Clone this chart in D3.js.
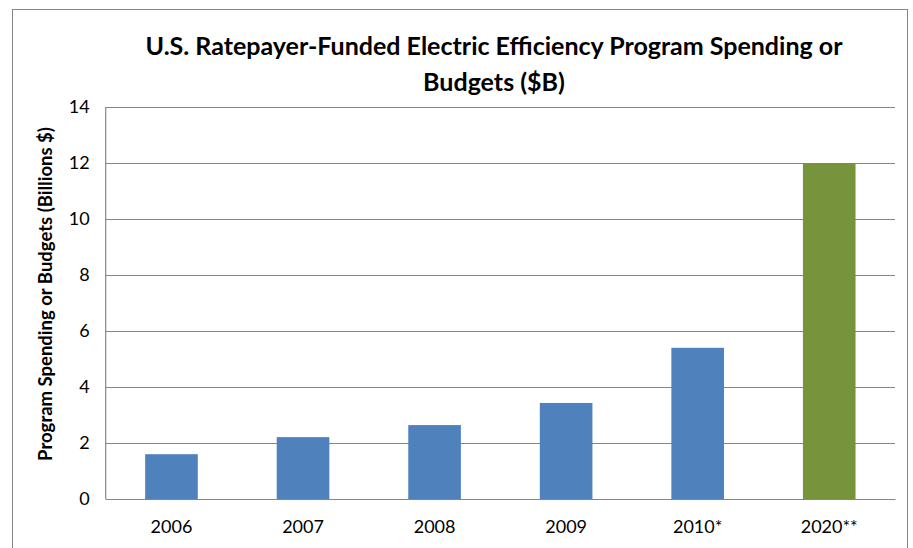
<!DOCTYPE html>
<html>
<head>
<meta charset="utf-8">
<script src="https://cdn.jsdelivr.net/npm/d3@7"></script>
<style>
  body { margin: 0; background: #fff; }
  text { font-family: Lato, "Open Sans", sans-serif; fill: #000; }
</style>
</head>
<body>
<div id="container"></div>
<script>
// chart data
var years = ["2006", "2007", "2008", "2009", "2010*", "2020**"];
var spending = [1.6, 2.21, 2.64, 3.43, 5.4, 12];
var barColors = ["#4F81BD", "#4F81BD", "#4F81BD", "#4F81BD", "#4F81BD", "#77933C"];
var yTicks = [0, 2, 4, 6, 8, 10, 12, 14];
var titleLines = ["U.S. Ratepayer-Funded Electric Efficiency Program Spending or", "Budgets ($B)"];
var yTitle = "Program Spending or Budgets (Billions $)";

var width = 913, height = 548;
var margin = {left: 105.7, top: 107, right: 18, bottom: 49};

var svg = d3.select("#container")
    .append("svg")
    .attr("width", width)
    .attr("height", height);

// outer frame
svg.append("rect")
    .attr("x", 12.5)
    .attr("y", 9.5)
    .attr("width", 895)
    .attr("height", 600)
    .attr("fill", "none")
    .attr("stroke", "#868686");

var x = d3.scaleBand()
    .domain(years)
    .range([margin.left, width - margin.right])
    .paddingInner(0.6)
    .paddingOuter(0.3);

var y = d3.scaleLinear()
    .domain([0, 14])
    .range([height - margin.bottom, margin.top]);

// gridlines + y labels
var yAxis = d3.axisLeft(y)
    .tickValues(yTicks)
    .tickSize(-(width - margin.right - margin.left))
    .tickPadding(16)
    .tickFormat(d3.format("d"));

var gy = svg.append("g")
    .attr("transform", "translate(" + margin.left + ",0)")
    .call(yAxis);
gy.select(".domain").remove();
gy.selectAll(".tick line")
    .attr("stroke", "#868686")
    .attr("stroke-width", 1.2);
gy.selectAll(".tick text")
    .style("font-size", "18px")
    .style("font-family", "Lato, 'Open Sans', sans-serif");

// left axis line
svg.append("line")
    .attr("x1", margin.left).attr("x2", margin.left)
    .attr("y1", y(14)).attr("y2", y(0))
    .attr("stroke", "#868686")
    .attr("stroke-width", 1.2);

// bars
svg.selectAll(".bar")
    .data(years)
    .enter()
    .append("rect")
    .attr("class", "bar")
    .attr("x", d => x(d))
    .attr("y", (d, i) => y(spending[i]))
    .attr("width", x.bandwidth())
    .attr("height", (d, i) => y(0) - y(spending[i]))
    .attr("fill", (d, i) => barColors[i]);

// x axis
var xAxis = d3.axisBottom(x).tickSize(0).tickPadding(21);
var gx = svg.append("g")
    .attr("transform", "translate(0," + y(0) + ")")
    .call(xAxis);
gx.select(".domain")
    .attr("stroke", "#868686")
    .attr("stroke-width", 1.2);
gx.selectAll(".tick text")
    .style("font-size", "18px")
    .style("font-family", "Lato, 'Open Sans', sans-serif");

// title
svg.append("text")
    .attr("text-anchor", "middle")
    .attr("font-weight", "bold")
    .attr("font-size", "25px")
    .selectAll("tspan")
    .data(titleLines)
    .enter()
    .append("tspan")
    .attr("x", 494)
    .attr("y", (d, i) => 54.5 + i * 36.5)
    .text(d => d);

// y axis title
svg.append("text")
    .attr("transform", "translate(52," + 294 + ") rotate(-90)")
    .attr("text-anchor", "middle")
    .attr("font-weight", "bold")
    .attr("font-size", "18.5px")
    .text(yTitle);
</script>
</body>
</html>
